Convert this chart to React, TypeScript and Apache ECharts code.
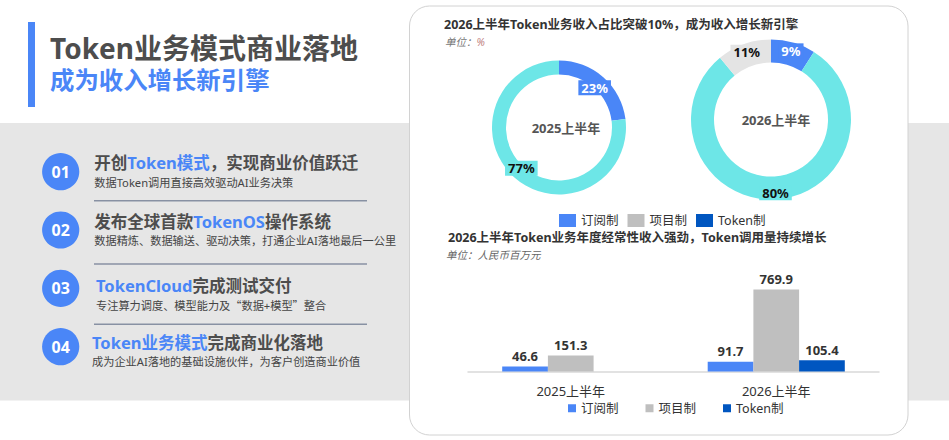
import React, { useEffect, useRef } from 'react';
import * as echarts from 'echarts';

const FONT = "'Noto Sans', 'Noto Sans CJK SC', sans-serif";
const CJK = "'Noto Sans CJK SC', sans-serif";

const BLUE = '#4a86f7';
const CYAN = '#6de6e7';
const LIGHT = '#e4e4e4';
const BAR_GRAY = '#bfbfbf';
const DARK_BLUE = '#0056c0';

// donut data (%)
const pieNames = ['订阅制', '项目制', 'Token制'];
const pieColors = [BLUE, CYAN, LIGHT];
const share2025 = [23, 77];
const share2026 = [9, 80, 11];

// bar data (人民币百万元)
const barCategories = ['2025上半年', '2026上半年'];
const subscription = [46.6, 91.7];
const project = [151.3, 769.9];
const token = [null, 105.4];

const items = [
  { no: '01', head: '{g|开创}{b|Token模式}{g|，实现商业价值跃迁}', sub: '{s|数据Token调用直接高效驱动AI业务决策}' },
  { no: '02', head: '{g|发布全球首款}{b|TokenOS}{g|操作系统}', sub: '{s|数据精炼、数据输送、驱动决策，打通企业AI落地最后一公里}' },
  { no: '03', head: '{b|TokenCloud}{g|完成测试交付}', sub: '{s|专注算力调度、模型能力及}{q|“}{s|数据+模型}{q|”}{s|整合}' },
  { no: '04', head: '{b|Token业务模式}{g|完成商业化落地}', sub: '{s|成为企业AI落地的基础设施伙伴，为客户创造商业价值}' },
];
const itemY = [171.7, 230, 288.3, 346.7];
const headY = [162.3, 221.7, 285.7, 342];
const subY = [182.3, 240, 305, 361];
const headX = [94.3, 94.3, 96, 92];
const lineY = [200.7, 264, 324.3];

const labelStyle2025 = [
  { color: '#fff', backgroundColor: BLUE, offset: [-6, 7.5] },
  { color: '#111', backgroundColor: CYAN, offset: [4, -6.5] },
];
const labelStyle2026 = [
  { color: '#fff', backgroundColor: BLUE, offset: [0, 0] },
  { color: '#111', backgroundColor: CYAN, offset: [0, 2] },
  { color: '#111', backgroundColor: LIGHT, offset: [0, 0] },
];

function pieData(values: number[], styles: any[]) {
  return values.map((v, i) => ({
    name: pieNames[i],
    value: v,
    itemStyle: { color: pieColors[i] },
    label: styles[i],
  }));
}

const pieLabel = {
  show: true,
  position: 'inside',
  formatter: '{c}%',
  fontSize: 13,
  fontWeight: 'bold',
  fontFamily: FONT,
  padding: [1, 3],
};

export default function App() {
  const chartRef = useRef<HTMLDivElement>(null);

  useEffect(() => {
    if (!chartRef.current) return;
    const chart = echarts.init(chartRef.current, undefined, { renderer: 'svg' });

    const graphics: any[] = [
      { type: 'rect', z: -10, shape: { x: 0, y: 123, width: 949, height: 277.5 }, style: { fill: '#e6e6e6' } },
      {
        type: 'rect', z: -9,
        shape: { x: 409.5, y: 6, width: 498.5, height: 429, r: 20 },
        style: { fill: '#fff', stroke: '#d2d2d2', lineWidth: 1 },
      },
      { type: 'rect', shape: { x: 28, y: 22, width: 7, height: 85 }, style: { fill: BLUE } },
      {
        type: 'text', x: 50, y: 47.5,
        style: { text: 'Token业务模式商业落地', fill: '#4d4d4d', fontSize: 28, lineHeight: 28, fontWeight: 'bold', fontFamily: FONT, verticalAlign: 'middle' },
      },
      {
        type: 'text', x: 50, y: 79,
        style: { text: '成为收入增长新引擎', fill: BLUE, fontSize: 24.4, lineHeight: 24, fontWeight: 'bold', fontFamily: FONT, verticalAlign: 'middle' },
      },
      // card titles
      {
        type: 'text', x: 444, y: 24,
        style: { text: '2026上半年Token业务收入占比突破10%，成为收入增长新引擎', fill: '#333', fontSize: 12.5, fontWeight: 'bold', fontFamily: FONT, verticalAlign: 'middle' },
      },
      {
        type: 'text', x: 445, y: 42,
        style: {
          text: '{u|单位：}{p|%}',
          fontFamily: FONT, verticalAlign: 'middle',
          rich: {
            u: { fill: '#777', fontSize: 10.5, fontStyle: 'italic', fontFamily: FONT },
            p: { fill: '#c08080', fontSize: 10.5, fontStyle: 'italic', fontFamily: FONT },
          },
        },
      },
      {
        type: 'text', x: 566, y: 128,
        style: { text: '2025上半年', fill: '#555', fontSize: 13, fontWeight: 'bold', fontFamily: FONT, align: 'center', verticalAlign: 'middle' },
      },
      {
        type: 'text', x: 776, y: 120,
        style: { text: '2026上半年', fill: '#555', fontSize: 13, fontWeight: 'bold', fontFamily: FONT, align: 'center', verticalAlign: 'middle' },
      },
      {
        type: 'text', x: 448, y: 237.5,
        style: { text: '2026上半年Token业务年度经常性收入强劲，Token调用量持续增长', fill: '#333', fontSize: 12.5, fontWeight: 'bold', fontFamily: FONT, verticalAlign: 'middle' },
      },
      {
        type: 'text', x: 446, y: 255,
        style: { text: '单位：人民币百万元', fill: '#666', fontSize: 10.5, fontStyle: 'italic', fontFamily: FONT, verticalAlign: 'middle' },
      },
    ];

    items.forEach((it, i) => {
      graphics.push(
        { type: 'circle', shape: { cx: 60.7, cy: itemY[i], r: 18.6 }, style: { fill: BLUE } },
        {
          type: 'text', x: 60.7, y: itemY[i],
          style: { text: it.no, fill: '#fff', fontSize: 16, fontWeight: 'bold', fontFamily: FONT, align: 'center', verticalAlign: 'middle' },
        },
        {
          type: 'text', x: headX[i], y: headY[i],
          style: {
            text: it.head, verticalAlign: 'middle', fontFamily: FONT,
            rich: {
              g: { fill: '#4d4d4d', fontSize: 16.5, fontWeight: 'bold', fontFamily: FONT },
              b: { fill: BLUE, fontSize: 16.5, fontWeight: 'bold', fontFamily: FONT },
            },
          },
        },
        {
          type: 'text', x: headX[i], y: subY[i],
          style: {
            text: it.sub, verticalAlign: 'middle', fontFamily: FONT,
            rich: {
              s: { fill: '#444', fontSize: 11.2, fontFamily: FONT },
              q: { fill: '#444', fontSize: 11.2, fontFamily: CJK },
            },
          },
        },
      );
    });
    lineY.forEach((y) => {
      graphics.push({
        type: 'line',
        shape: { x1: 94, y1: y, x2: 367, y2: y },
        style: { stroke: '#8891a3', lineWidth: 1.5 },
      });
    });

    const option: echarts.EChartsOption = {
      animation: false,
      textStyle: { fontFamily: FONT },
      graphic: graphics,
      legend: [
        {
          left: 559, top: 214, padding: 0,
          icon: 'rect', itemWidth: 17, itemHeight: 13, itemGap: 9,
          selectedMode: false,
          data: pieNames,
          textStyle: { fontSize: 12.5, color: '#333', fontFamily: FONT },
        },
        {
          left: 568, top: 402, padding: 0,
          icon: 'rect', itemWidth: 8, itemHeight: 8, itemGap: 27,
          selectedMode: false,
          data: [
            { name: '订阅制', itemStyle: { color: BLUE } },
            { name: '项目制', itemStyle: { color: BAR_GRAY } },
            { name: 'Token制', itemStyle: { color: DARK_BLUE } },
          ],
          textStyle: { fontSize: 12.5, color: '#333', fontFamily: FONT },
        },
      ],
      grid: { left: 468, top: 265, width: 411, height: 106.5 },
      xAxis: {
        type: 'category',
        data: barCategories,
        axisLine: { lineStyle: { color: '#d9d9d9', width: 1.5 } },
        axisTick: { show: false },
        axisLabel: { margin: 13, fontSize: 13, color: '#333', fontFamily: FONT },
      },
      yAxis: { type: 'value', min: 0, max: 1000, show: false },
      series: [
        {
          type: 'pie',
          center: [559, 127.5],
          radius: [53, 67],
          startAngle: 90,
          clockwise: true,
          avoidLabelOverlap: false,
          labelLine: { show: false },
          label: pieLabel as any,
          data: pieData(share2025, labelStyle2025),
        },
        {
          type: 'pie',
          center: [771, 119.5],
          radius: [57, 80],
          startAngle: 90,
          clockwise: true,
          avoidLabelOverlap: false,
          labelLine: { show: false },
          label: pieLabel as any,
          data: pieData(share2026, labelStyle2026),
        },
        ...[
          { name: '订阅制', data: subscription, color: BLUE },
          { name: '项目制', data: project, color: BAR_GRAY },
          { name: 'Token制', data: token, color: DARK_BLUE },
        ].map((s) => ({
          type: 'bar' as const,
          name: s.name,
          data: s.data,
          barWidth: 45.7,
          barGap: '0%',
          itemStyle: { color: s.color },
          label: {
            show: true,
            position: 'top' as const,
            distance: 4,
            fontSize: 13,
            fontWeight: 'bold' as const,
            color: '#333',
            fontFamily: FONT,
          },
        })),
      ],
    };

    chart.setOption(option);
    return () => chart.dispose();
  }, []);

  return (
    <div
      ref={chartRef}
      style={{ position: 'absolute', left: 0, top: 0, width: 949, height: 440 }}
    />
  );
}
